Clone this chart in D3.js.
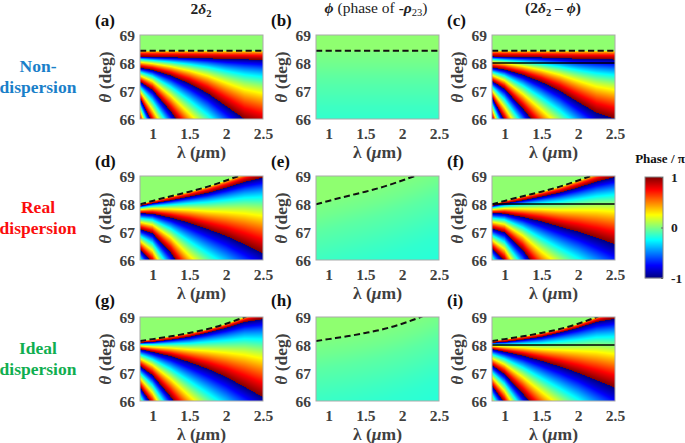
<!DOCTYPE html>
<html>
<head>
<meta charset="utf-8" />
<title>Phase maps</title>
<script src="https://cdn.jsdelivr.net/npm/d3@7"></script>
<style>
  html, body { margin: 0; padding: 0; background: #fff; }
  svg { display: block; }
  text { font-family: "Liberation Serif", serif; font-weight: bold; }
  .tick text { fill: #404040; font-size: 15.5px; }
  .axis-label { fill: #404040; font-size: 17.5px; }
  .panel-label { fill: #111; font-size: 17px; }
  .title { fill: #222; font-size: 15.5px; }
  .row-label { font-size: 17.5px; text-anchor: middle; }
</style>
</head>
<body>
<svg id="chart" width="685" height="443"></svg>
<script>
var lambdaKnots = [0.83, 1, 1.25, 1.5, 1.75, 2, 2.25, 2.5];

// critical angle (dashed line), deg
var critNon   = [68.44, 68.44, 68.44, 68.44, 68.44, 68.44, 68.44, 68.44];
var critReal  = [67.99, 68.11, 68.28, 68.44, 68.62, 68.84, 69.08, 69.35];
var critIdeal = [68.14, 68.21, 68.31, 68.43, 68.57, 68.76, 69.00, 69.30];

// angles where 2*delta_2 wraps from +pi to -pi, top to bottom (below 66 = off the plot)
var wrapsNon = [
  [68.23, 68.21, 68.20, 68.19, 68.17, 68.14, 68.13, 68.11],
  [67.83, 67.75, 67.55, 67.27, 66.92, 66.46, 66.00, 65.75],
  [67.33, 67.04, 66.26, 65.37, 64.50, 63.60, 62.80, 62.00],
  [66.74, 65.85, 64.50, 63.00, 62.00, 61.00, 60.00, 59.00],
  [66.02, 64.60, 63.00, 61.50, 60.00, 59.00, 58.00, 57.00],
  [65.10, 63.00, 61.00, 59.50, 58.00, 57.00, 56.00, 55.00]
];
var wrapsReal = [
  [67.93, 68.02, 68.13, 68.26, 68.40, 68.58, 68.79, 68.94],
  [67.67, 67.65, 67.51, 67.33, 67.10, 66.86, 66.56, 66.24],
  [67.10, 66.95, 66.26, 65.25, 64.40, 63.60, 62.80, 62.00],
  [66.38, 65.90, 64.50, 63.00, 62.00, 61.00, 60.00, 59.00],
  [65.50, 64.40, 63.00, 61.50, 60.00, 59.00, 58.00, 57.00]
];
var wrapsIdeal = [
  [68.08, 68.11, 68.19, 68.29, 68.44, 68.61, 68.82, 68.92],
  [67.85, 67.75, 67.60, 67.39, 67.15, 66.86, 66.50, 66.14],
  [67.25, 66.92, 66.14, 65.25, 64.40, 63.60, 62.80, 62.00],
  [66.50, 65.85, 64.50, 63.00, 62.00, 61.00, 60.00, 59.00],
  [65.60, 64.40, 63.00, 61.50, 60.00, 59.00, 58.00, 57.00]
];

// phase of -rho_23 (units of pi) against depth below the critical angle (deg)
var phiDepth = [0, 0.5, 1, 1.5, 2, 2.5, 3.5];
var phiValue = [0.0, -0.03, -0.07, -0.10, -0.13, -0.155, -0.18];
var phaseAboveCrit = 0.03;

var xTicks = [1, 1.5, 2, 2.5];
var yTicks = [66, 67, 68, 69];
var colorTicks = [-1, 0, 1];

var jetStops = [-1, -0.75, -0.25, 0.25, 0.75, 1];
var jetColors = ["#000080", "#0000ff", "#00ffff", "#ffff00", "#ff0000", "#800000"];

var rowNames = [["Non-", "dispersion"], ["Real", "dispersion"], ["Ideal", "dispersion"]];
var rowColors = ["#1a7fc9", "#fb0d0d", "#10ae50"];
var rowCrit = [critNon, critReal, critIdeal];
var rowWraps = [wrapsNon, wrapsReal, wrapsIdeal];
var panelLetters = ["a", "b", "c", "d", "e", "f", "g", "h", "i"];

var colX = [140, 316, 492];
var rowY = [35, 176, 317];
var plotW = 123, plotH = 84;

var svg = d3.select("#chart");
var jet = d3.scaleLinear().domain(jetStops).range(jetColors).clamp(true);
var phiScale = d3.scaleLinear().domain(phiDepth).range(phiValue).clamp(true);

function wrapPhase(p) {
  var w = (p + 1) % 2;
  if (w < 0) w += 2;
  return w - 1;
}

// unwrapped 2*delta_2 at one angle, given the curve angles in that column
function deltaPhase(theta, crit, wraps) {
  if (theta >= crit) return phaseAboveCrit;
  var upper = crit, pUpper = phaseAboveCrit;
  for (var i = 0; i < wraps.length; i++) {
    var pLower = 2 * i + 1;
    if (theta >= wraps[i] || i === wraps.length - 1) {
      var f = (upper - theta) / (upper - wraps[i]);
      var a = Math.pow(pUpper - phaseAboveCrit, 2), b = Math.pow(pLower - phaseAboveCrit, 2);
      return phaseAboveCrit + Math.sqrt(a + f * (b - a));
    }
    upper = wraps[i];
    pUpper = pLower;
  }
}

function paintField(row, col, x, y) {
  var canvas = document.createElement("canvas");
  canvas.width = plotW;
  canvas.height = plotH;
  var ctx = canvas.getContext("2d");
  var img = ctx.createImageData(plotW, plotH);
  var critAt = d3.scaleLinear().domain(lambdaKnots).range(rowCrit[row]);
  var wrapAt = rowWraps[row].map(function(w) { return d3.scaleLinear().domain(lambdaKnots).range(w); });
  var left = x.range()[0];
  var top = y.range()[1];
  for (var i = 0; i < plotW; i++) {
    var lambda = x.invert(left + i + 0.5);
    var crit = critAt(lambda);
    var wraps = wrapAt.map(function(s) { return s(lambda); });
    for (var j = 0; j < plotH; j++) {
      var theta = y.invert(top + j + 0.5);
      var phi = theta >= crit ? phaseAboveCrit : phiScale(crit - theta);
      var p;
      if (col === 1) p = phi;
      else if (col === 0 || theta >= crit) p = deltaPhase(theta, crit, wraps);
      else p = deltaPhase(theta, crit, wraps) - phi;
      var c = d3.rgb(jet(wrapPhase(p)));
      var k = 4 * (j * plotW + i);
      img.data[k] = c.r;
      img.data[k + 1] = c.g;
      img.data[k + 2] = c.b;
      img.data[k + 3] = 255;
    }
  }
  ctx.putImageData(img, 0, 0);
  return canvas.toDataURL();
}

function drawPanel(row, col) {
  var x0 = colX[col], y0 = rowY[row];
  var x = d3.scaleLinear().domain([0.83, 2.5]).range([x0, x0 + plotW]);
  var y = d3.scaleLinear().domain([66, 69]).range([y0 + plotH, y0]);
  var clipId = "clip" + row + col;
  svg.append("clipPath").attr("id", clipId).append("rect")
    .attr("x", x0).attr("y", y0).attr("width", plotW).attr("height", plotH);

  svg.append("image").attr("x", x0).attr("y", y0)
    .attr("width", plotW).attr("height", plotH)
    .attr("href", paintField(row, col, x, y));

  var crit = d3.line()
    .x(function(d, i) { return x(lambdaKnots[i]); })
    .y(function(d) { return y(d); })
    .curve(d3.curveMonotoneX);
  svg.append("path").attr("d", crit(rowCrit[row]))
    .attr("clip-path", "url(#" + clipId + ")")
    .attr("fill", "none").attr("stroke", "#111")
    .attr("stroke-width", 2).attr("stroke-dasharray", "6.2,3.4");

  if (col === 2) {
    svg.append("line").attr("x1", x0).attr("x2", x0 + plotW)
      .attr("y1", y(68)).attr("y2", y(68))
      .attr("stroke", "#000").attr("stroke-width", 1.5);
  }

  svg.append("rect").attr("x", x0).attr("y", y0)
    .attr("width", plotW).attr("height", plotH)
    .attr("fill", "none").attr("stroke", "#aaa").attr("stroke-width", 1);

  var xAxis = svg.append("g").attr("transform", "translate(0," + (y0 + plotH) + ")")
    .call(d3.axisBottom(x).tickValues(xTicks).tickSize(0).tickPadding(9).tickFormat(d3.format("")));
  var yAxis = svg.append("g").attr("transform", "translate(" + x0 + ",1)")
    .call(d3.axisLeft(y).tickValues(yTicks).tickSize(0).tickPadding(5).tickFormat(d3.format("d")));
  xAxis.select(".domain").remove();
  yAxis.select(".domain").remove();
  xAxis.attr("font-family", null);
  yAxis.attr("font-family", null);

  var xl = svg.append("text").attr("class", "axis-label")
    .attr("x", x0 + plotW / 2).attr("y", y0 + plotH + 38.5).attr("text-anchor", "middle");
  xl.append("tspan").text("λ (");
  xl.append("tspan").attr("font-style", "italic").text("μ");
  xl.append("tspan").text("m)");

  var yl = svg.append("text").attr("class", "axis-label")
    .attr("transform", "translate(" + (x0 - 29) + "," + (y0 + plotH / 2) + ") rotate(-90)")
    .attr("text-anchor", "middle");
  yl.append("tspan").attr("font-style", "italic").text("θ");
  yl.append("tspan").text(" (deg)");

  svg.append("text").attr("class", "panel-label")
    .attr("x", x0 - 45).attr("y", y0 - (row === 2 ? 11 : 9))
    .text("(" + panelLetters[row * 3 + col] + ")");
}

d3.range(3).forEach(function(row) {
  d3.range(3).forEach(function(col) { drawPanel(row, col); });
  var label = svg.append("text").attr("class", "row-label").attr("fill", rowColors[row]);
  rowNames[row].forEach(function(s, i) {
    label.append("tspan").attr("x", 38).attr("y", rowY[row] + 37 + i * 21).text(s);
  });
});

// column titles
var t1 = svg.append("text").attr("class", "title").attr("x", 201).attr("y", 14).attr("text-anchor", "middle");
t1.append("tspan").text("2");
t1.append("tspan").attr("font-style", "italic").text("δ");
t1.append("tspan").attr("dy", 3).attr("font-size", 10.5).text("2");

var t2 = svg.append("text").attr("class", "title").attr("x", 376).attr("y", 13).attr("text-anchor", "middle");
t2.append("tspan").attr("font-style", "italic").text("ϕ");
t2.append("tspan").attr("font-weight", "normal").attr("dx", 4).text("(phase of ");
t2.append("tspan").text("-");
t2.append("tspan").attr("font-style", "italic").text("ρ");
t2.append("tspan").attr("font-weight", "normal").attr("dy", 3).attr("font-size", 10.5).text("23");
t2.append("tspan").attr("font-weight", "normal").attr("dy", -3).text(")");

var t3 = svg.append("text").attr("class", "title").attr("x", 553).attr("y", 13).attr("text-anchor", "middle");
t3.append("tspan").text("(2");
t3.append("tspan").attr("font-style", "italic").text("δ");
t3.append("tspan").attr("dy", 3).attr("font-size", 10.5).text("2");
t3.append("tspan").attr("dy", -3).text(" – ");
t3.append("tspan").attr("font-style", "italic").text("ϕ");
t3.append("tspan").text(")");

// colorbar
var barX = 645, barW = 18, barTop = 177, barBottom = 278;
var barY = d3.scaleLinear().domain([-1, 1]).range([barBottom, barTop]);
svg.append("g").selectAll("rect").data(d3.range(barTop, barBottom)).join("rect")
  .attr("x", barX).attr("y", function(d) { return d; })
  .attr("width", barW).attr("height", 1.2)
  .attr("fill", function(d) { return jet(barY.invert(d + 0.5)); });
svg.append("rect").attr("x", barX).attr("y", barTop)
  .attr("width", barW).attr("height", barBottom - barTop)
  .attr("fill", "none").attr("stroke", "#888").attr("stroke-width", 1);
var barAxis = svg.append("g").attr("transform", "translate(" + (barX + barW) + ",0)")
  .call(d3.axisRight(barY).tickValues(colorTicks).tickSize(-2).tickPadding(8).tickFormat(function(d) { return String(d); }));
barAxis.select(".domain").remove();
barAxis.attr("font-family", null);
barAxis.selectAll("line").attr("stroke", "#666");
barAxis.selectAll("text").style("font-size", "13.5px").style("fill", "#222");
svg.append("text").attr("x", 660).attr("y", 163).attr("text-anchor", "middle")
  .attr("fill", "#111").attr("font-size", 13).text("Phase / π");
</script>
</body>
</html>
